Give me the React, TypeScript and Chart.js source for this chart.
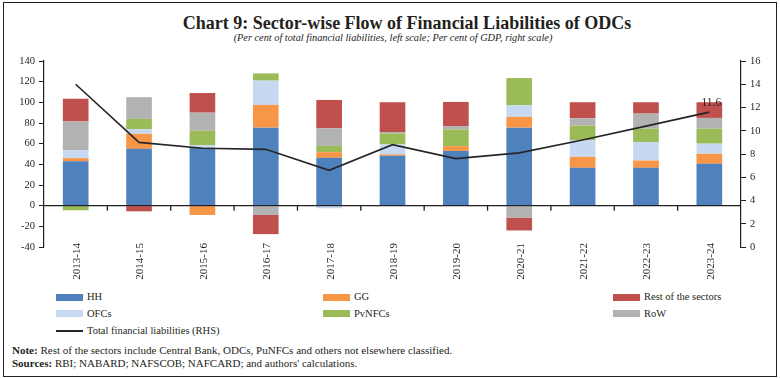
import React, { useEffect, useRef } from "react";
import { Chart, registerables } from "chart.js";
Chart.register(...registerables);

const categories = ["2013-14", "2014-15", "2015-16", "2016-17", "2017-18", "2018-19", "2019-20", "2020-21", "2021-22", "2022-23", "2023-24"];
const hh = [43, 55, 56, 75.5, 46.3, 48.3, 53, 75.5, 36.6, 36.6, 40.5];
const gg = [3, 14.5, -9, 22, 5.5, 1.3, 4.6, 10.5, 10.7, 7.1, 9.7];
const ofcs = [7.5, 4.5, 2.5, 23.5, -2.5, 9.7, 0, 11, 15.9, 17.9, 9.8];
const pvnfcs = [-4.5, 10, 14, 7, 6, 10.7, 16.2, 26.5, 14.2, 12.9, 14.5];
const rowSector = [28, 21, 17.5, -9, 17, 1.3, 3.2, -11.5, 7.2, 14.6, 10.4];
const restSectors = [22, -5.5, 19, -18.5, 27.5, 28.8, 23.4, -12.5, 15.5, 11, 15.2];
const totalLiabilities = [14.0, 9.0, 8.5, 8.4, 6.6, 8.8, 7.6, 8.1, 9.2, 10.4, 11.6];

const leftTicks = { min: -40, max: 140, step: 20 };
const rightTicks = { min: 0, max: 16, step: 2 };

const C = {
  hh: "#4F81BD",
  gg: "#F79646",
  rest: "#C0504D",
  ofcs: "#C6D9F0",
  pv: "#9BBB59",
  row: "#B2B2B2",
  line: "#262626",
  text: "#231F20",
};

const FONT = "'Liberation Serif', 'Times New Roman', serif";

const zeroLinePlugin = {
  id: "zeroLine",
  afterDatasetsDraw(chart: any) {
    const { ctx, chartArea, scales } = chart;
    const y0 = scales.y.getPixelForValue(0);
    ctx.save();
    ctx.strokeStyle = C.text;
    ctx.lineWidth = 1.3;
    ctx.beginPath();
    ctx.moveTo(chartArea.left, y0);
    ctx.lineTo(chartArea.right, y0);
    const xs = scales.x;
    for (let i = 0; i < categories.length - 1; i++) {
      const bx = (xs.getPixelForValue(i) + xs.getPixelForValue(i + 1)) / 2;
      ctx.moveTo(bx, y0);
      ctx.lineTo(bx, y0 + 5);
    }
    ctx.stroke();
    ctx.restore();
  },
};

// category labels, rotated, starting just above the bottom of the plot
const xLabelPlugin = {
  id: "xLabels",
  afterDraw(chart: any) {
    const { ctx, chartArea, scales } = chart;
    const xs = scales.x;
    ctx.save();
    ctx.font = `11px ${FONT}`;
    ctx.fillStyle = C.text;
    ctx.textAlign = "right";
    ctx.textBaseline = "middle";
    chart.data.labels.forEach((lab: string, i: number) => {
      const x = xs.getPixelForValue(i) + 1.5;
      const y = chartArea.bottom - 4;
      ctx.save();
      ctx.translate(x, y);
      ctx.rotate(-Math.PI / 2);
      ctx.fillText(lab, 0, 0);
      ctx.restore();
    });
    ctx.restore();
  },
};

const lastLabelPlugin = {
  id: "lastLabel",
  afterDatasetsDraw(chart: any) {
    const idx = chart.data.datasets.findIndex((d: any) => d.type === "line");
    const meta = chart.getDatasetMeta(idx);
    const last = meta.data.length - 1;
    const pt = meta.data[last];
    const { ctx } = chart;
    ctx.save();
    ctx.font = `11.5px ${FONT}`;
    ctx.fillStyle = C.text;
    ctx.textAlign = "center";
    ctx.textBaseline = "bottom";
    ctx.fillText(totalLiabilities[last].toFixed(1), pt.x + 2, pt.y - 3);
    ctx.restore();
  },
};

function ChartCanvas() {
  const ref = useRef<HTMLCanvasElement>(null);
  useEffect(() => {
    if (!ref.current) return;
    const barDs = (label: string, data: number[], color: string) => ({
      type: "bar" as const,
      label,
      data,
      backgroundColor: color,
      borderWidth: 0,
      yAxisID: "y",
      order: 1,
      barPercentage: 0.405,
      categoryPercentage: 1,
    });
    const chart = new Chart(ref.current, {
      type: "bar",
      data: {
        labels: categories,
        datasets: [
          barDs("HH", hh, C.hh),
          barDs("GG", gg, C.gg),
          barDs("OFCs", ofcs, C.ofcs),
          barDs("PvNFCs", pvnfcs, C.pv),
          barDs("RoW", rowSector, C.row),
          barDs("Rest of the sectors", restSectors, C.rest),
          {
            type: "line" as const,
            label: "Total financial liabilities (RHS)",
            data: totalLiabilities,
            borderColor: C.line,
            backgroundColor: C.line,
            borderWidth: 1.6,
            pointRadius: 0,
            tension: 0,
            yAxisID: "y1",
            order: 0,
          } as any,
        ],
      },
      options: {
        responsive: false,
        animation: false,
        devicePixelRatio: 1,
        layout: { padding: { top: 11, left: 0, right: 0, bottom: 0 } },
        plugins: {
          legend: { display: false },
          tooltip: { enabled: false },
        },
        scales: {
          x: {
            stacked: true,
            offset: true,
            grid: { display: false, drawTicks: false },
            border: { display: false },
            ticks: { display: false },
            afterFit: (s: any) => {
              s.height = 43;
            },
          },
          y: {
            stacked: true,
            position: "left",
            min: leftTicks.min,
            max: leftTicks.max,
            ticks: {
              stepSize: leftTicks.step,
              padding: 4,
              color: C.text,
              font: { family: FONT, size: 10.5 },
            },
            grid: {
              drawOnChartArea: false,
              drawTicks: true,
              tickLength: 5,
              color: C.text,
              lineWidth: 1,
            },
            border: { display: true, color: C.text, width: 1.2 },
            afterFit: (s: any) => {
              s.width = 44;
            },
          },
          y1: {
            position: "right",
            min: rightTicks.min,
            max: rightTicks.max,
            ticks: {
              stepSize: rightTicks.step,
              padding: 4,
              color: C.text,
              font: { family: FONT, size: 10.5 },
            },
            grid: {
              drawOnChartArea: false,
              drawTicks: true,
              tickLength: 5,
              color: C.text,
              lineWidth: 1,
            },
            border: { display: true, color: C.text, width: 1.2 },
            afterFit: (s: any) => {
              s.width = 39;
            },
          },
        },
      } as any,
      plugins: [zeroLinePlugin, lastLabelPlugin, xLabelPlugin],
    });
    return () => chart.destroy();
  }, []);
  return (
    <canvas
      ref={ref}
      width={780}
      height={240}
      style={{ position: "absolute", left: 0, top: 50, width: 780, height: 240 }}
    />
  );
}

const legendItems = [
  { label: "HH", color: C.hh, x: 56, row: 0, kind: "box" },
  { label: "GG", color: C.gg, x: 323, row: 0, kind: "box" },
  { label: "Rest of the sectors", color: C.rest, x: 613, row: 0, kind: "box" },
  { label: "OFCs", color: C.ofcs, x: 56, row: 1, kind: "box" },
  { label: "PvNFCs", color: C.pv, x: 323, row: 1, kind: "box" },
  { label: "RoW", color: C.row, x: 613, row: 1, kind: "box" },
  { label: "Total financial liabilities (RHS)", color: C.line, x: 56, row: 2, kind: "line" },
];
const rowY = [297, 313.5, 330.5];

export default function App() {
  return (
    <div
      style={{
        position: "absolute",
        left: 0,
        top: 0,
        width: 780,
        height: 378,
        background: "#fff",
        fontFamily: FONT,
        color: C.text,
        overflow: "hidden",
      }}
    >
      <div
        style={{
          position: "absolute",
          left: 3,
          top: 2,
          width: 774,
          height: 375,
          border: "1.5px solid #231F20",
          boxSizing: "border-box",
        }}
      />
      <div
        style={{
          position: "absolute",
          left: 9,
          width: 796,
          top: 13,
          textAlign: "center",
          fontWeight: "bold",
          fontSize: 18,
          lineHeight: "20px",
          whiteSpace: "nowrap",
        }}
      >
        Chart 9: Sector-wise Flow of Financial Liabilities of ODCs
      </div>
      <div
        style={{
          position: "absolute",
          left: 0,
          width: 786,
          top: 32,
          textAlign: "center",
          fontStyle: "italic",
          fontSize: 10.3,
          lineHeight: "12px",
          whiteSpace: "nowrap",
        }}
      >
        (Per cent of total financial liabilities, left scale; Per cent of GDP, right scale)
      </div>
      <ChartCanvas />
      {legendItems.map((it) => (
        <div key={it.label}>
          {it.kind === "box" ? (
            <div
              style={{
                position: "absolute",
                left: it.x,
                top: rowY[it.row] - 3.5,
                width: 27,
                height: 7,
                background: it.color,
              }}
            />
          ) : (
            <div
              style={{
                position: "absolute",
                left: it.x,
                top: rowY[it.row] - 1,
                width: 27,
                height: 2,
                background: it.color,
              }}
            />
          )}
          <div
            style={{
              position: "absolute",
              left: it.x + 31,
              top: rowY[it.row] - 7,
              fontSize: 10.5,
              lineHeight: "14px",
              whiteSpace: "nowrap",
            }}
          >
            {it.label}
          </div>
        </div>
      ))}
      <div
        style={{
          position: "absolute",
          left: 12,
          top: 344,
          fontSize: 11,
          lineHeight: "13px",
          whiteSpace: "nowrap",
        }}
      >
        <b>Note:</b> Rest of the sectors include Central Bank, ODCs, PuNFCs and others not elsewhere classified.
      </div>
      <div
        style={{
          position: "absolute",
          left: 12,
          top: 357,
          fontSize: 11,
          lineHeight: "13px",
          whiteSpace: "nowrap",
        }}
      >
        <b>Sources:</b> RBI; NABARD; NAFSCOB; NAFCARD; and authors' calculations.
      </div>
    </div>
  );
}
